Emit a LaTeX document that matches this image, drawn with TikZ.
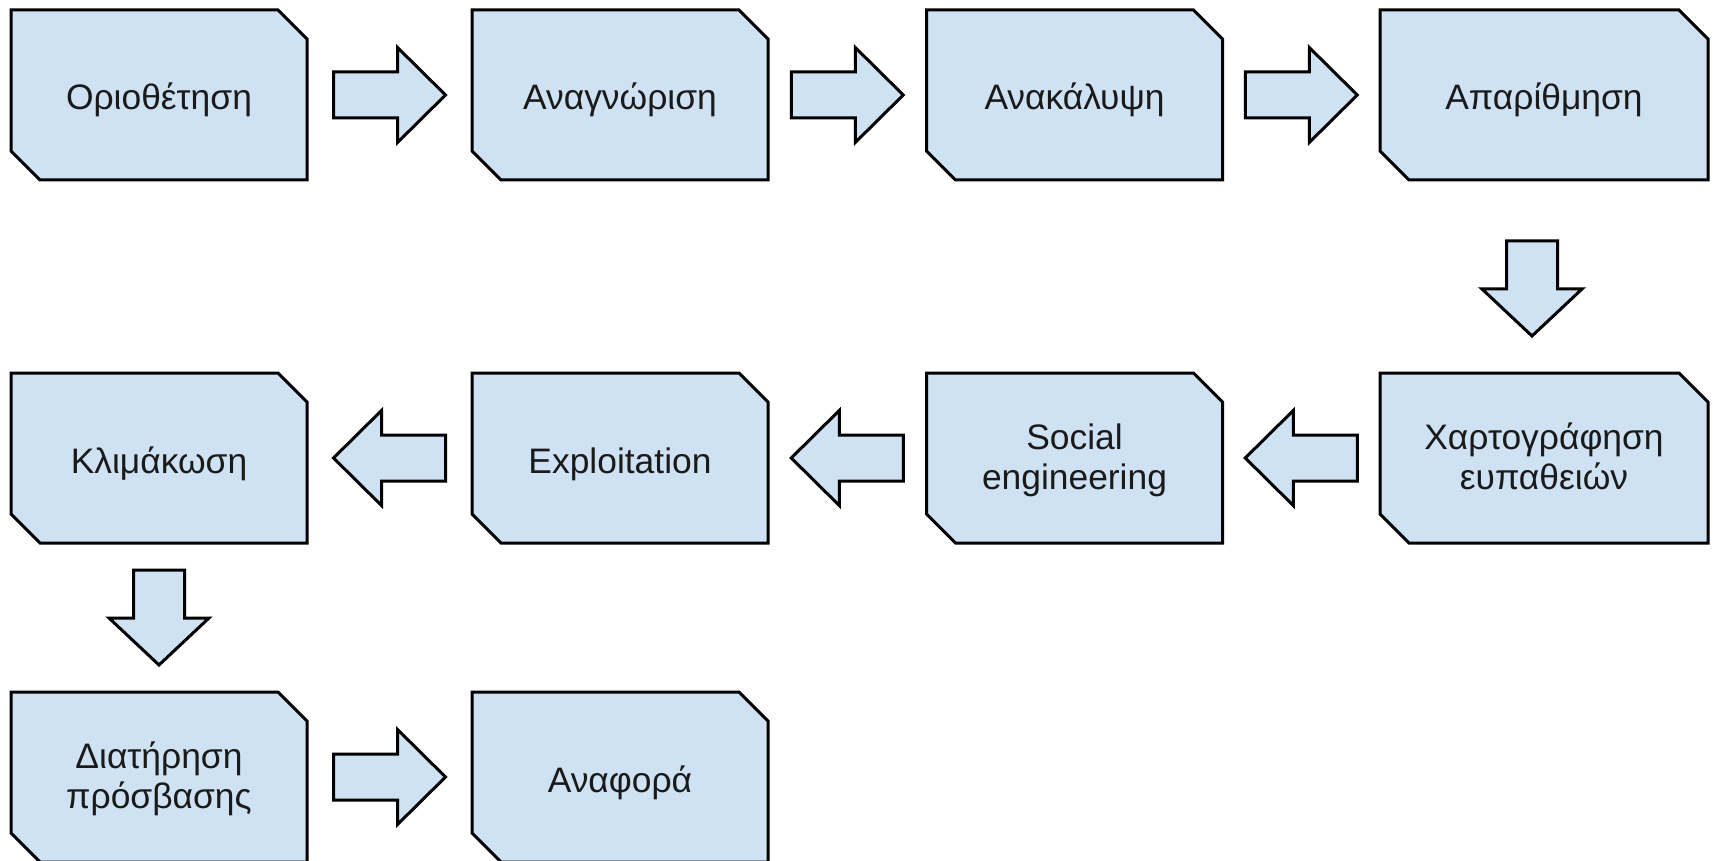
\documentclass[tikz,border=0pt]{standalone}
\usepackage{fontspec}
\setmainfont{Liberation Sans}
\usetikzlibrary{calc,backgrounds}

\definecolor{boxfill}{HTML}{CFE2F3}
\definecolor{boxtext}{HTML}{1A1A1A}

\tikzset{
	stage/.style={rectangle, minimum width=148pt, minimum height=85pt,
		inner sep=0pt, outer sep=0pt, align=center, text=boxtext,
		font=\fontsize{17.7pt}{20pt}\selectfont,
		text height=19.2pt, text depth=4.2pt},
	twoline/.style={text height=35pt, text depth=4pt},
	widestage/.style={stage, minimum width=164pt},
	outline/.style={draw=black, fill=boxfill, line width=1.5pt},
	% block arrows, drawn around their centre
	pics/stepright/.style={code={
		\draw[outline] (-56,-23) -- (8,-23) -- (8,-47.5) -- (56,0) -- (8,47.5) -- (8,23) -- (-56,23) -- cycle;
	}},
	pics/stepdown/.style={code={
		\draw[outline] (-25.5,-47.5) -- (25.5,-47.5) -- (25.5,0.5) -- (50,0.5) -- (0,47.5) -- (-50,0.5) -- (-25.5,0.5) -- cycle;
	}}
}

\begin{document}
\begin{tikzpicture}[x=0.5pt, y=-0.5pt]
	\useasboundingbox (0,0) rectangle (1713,861);
	
	% first row
	\node[stage] (orio) at (159, 95) {Οριοθέτηση};
	\node[stage] (anag) at (620, 95) {Αναγνώριση};
	\node[stage] (anak) at (1074.5, 95) {Ανακάλυψη};
	\node[widestage] (apar) at (1544, 95) {Απαρίθμηση};
	
	% second row
	\node[widestage, twoline] (xart) at (1544, 458) {Χαρτογράφηση\\ευπαθειών};
	\node[stage, twoline] (soc) at (1074.5, 458) {Social\\engineering};
	\node[stage] (expl) at (620, 458) {Exploitation};
	\node[stage] (klim) at (159, 458) {Κλιμάκωση};
	
	% third row
	\node[stage, twoline] (diat) at (159, 777) {Διατήρηση\\πρόσβασης};
	\node[stage] (anaf) at (620, 777) {Αναφορά};
	
	\begin{scope}[on background layer]
		\foreach \s in {orio,anag,anak,apar,xart,soc,expl,klim,diat,anaf}
			\draw[outline] (\s.north west) -- ([xshift=-14.5pt]\s.north east) -- ([yshift=-14.5pt]\s.north east) -- (\s.south east) -- ([xshift=14.5pt]\s.south west) -- ([yshift=14.5pt]\s.south west) -- cycle;
	\end{scope}
	
	\pic at ($(orio.east)!0.5!(anag.west)$) {stepright};
	\pic at ($(anag.east)!0.5!(anak.west)$) {stepright};
	\pic at ($(anak.east)!0.5!(apar.west)$) {stepright};
	\pic[xshift=-6pt, yshift=-6pt] at ($(apar.south)!0.5!(xart.north)$) {stepdown};
	\pic[rotate=180] at ($(xart.west)!0.5!(soc.east)$) {stepright};
	\pic[rotate=180] at ($(soc.west)!0.5!(expl.east)$) {stepright};
	\pic[rotate=180] at ($(expl.west)!0.5!(klim.east)$) {stepright};
	\pic at ($(klim.south)!0.5!(diat.north)$) {stepdown};
	\pic at ($(diat.east)!0.5!(anaf.west)$) {stepright};
\end{tikzpicture}
\end{document}
